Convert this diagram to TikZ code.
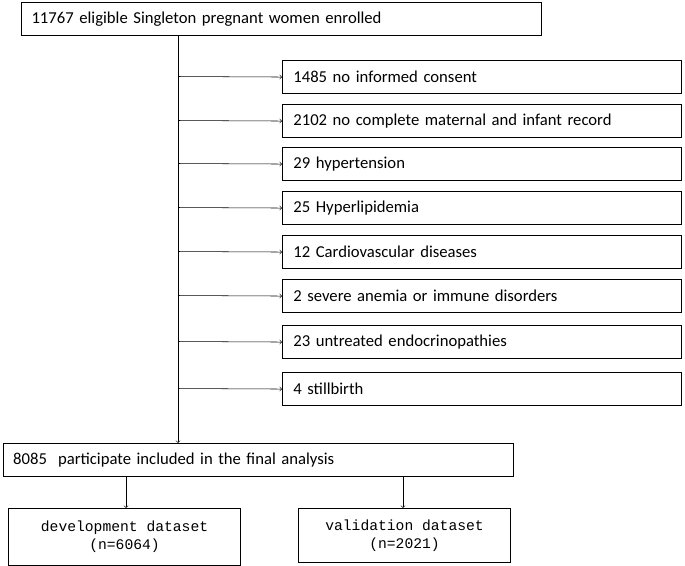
\documentclass[tikz,border=0pt]{standalone}
\usepackage{fontspec}
\setmainfont{Carlito}
\newfontfamily\monofont{Liberation Mono}
\usetikzlibrary{positioning}

\tikzset{
  box/.style={draw, thick, minimum height=24.75pt, inner sep=0pt, anchor=north west, align=left, font=\fontsize{12.5}{14}\selectfont},
  excl/.style={box, minimum width=299.25pt, text width=291pt},
  sub/.style={draw, thick, align=center, anchor=north west, inner sep=0pt, font=\monofont\fontsize{11}{13.5}\selectfont},
  arr/.style={->, thin}
}

\begin{document}
\begin{tikzpicture}[x=0.75pt, y=-0.75pt]
  \useasboundingbox (0,0) rectangle (685,565);
  \node[box, minimum width=390pt, text width=383pt] (top) at (21,2) {\hspace*{4pt}11767 eligible Singleton pregnant women enrolled};
  % exclusions
  \foreach \name/\yy/\txt in {e1/60/1485 no informed consent,
      e2/104/2102 no complete maternal and infant record,
      e3/147/29 hypertension,
      e4/191/25 Hyperlipidemia,
      e5/235/12 Cardiovascular diseases,
      e6/279/2 severe anemia or immune disorders,
      e7/325/23 untreated endocrinopathies,
      e8/372/4 stillbirth} {
    \node[excl] (\name) at (282,\yy) {\hspace*{4pt}\txt};
    \coordinate (s\name) at (178,\yy+16.5);
    \draw[arr] (s\name) -- (\name.west);
  }
  \node[box, minimum width=382.5pt, text width=376pt] (final) at (3,443) {\hspace*{4pt}8085\ \ participate included in the final analysis};
  \coordinate (stem) at (178,36);
  \draw[arr] (stem) -- (178,443);
  \node[sub, minimum width=174pt, minimum height=42.75pt] (dev) at (8,508) {development dataset\\(n=6064)};
  \node[sub, minimum width=159pt, minimum height=40.5pt] (val) at (298,508) {validation dataset\\(n=2021)};
  \coordinate (f1) at (126,476);
  \coordinate (f2) at (403,476);
  \draw[arr] (f1) -- (f1 |- dev.north);
  \draw[arr] (f2) -- (f2 |- val.north);
\end{tikzpicture}
\end{document}
